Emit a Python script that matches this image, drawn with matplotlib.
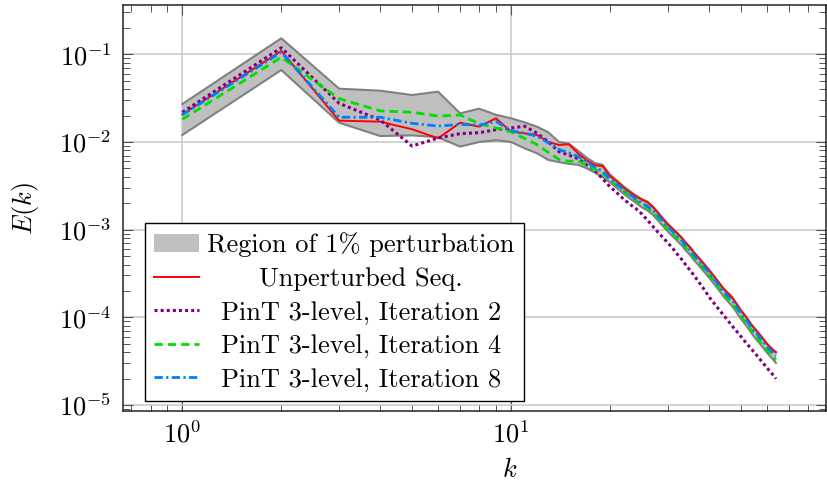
import numpy as np
import matplotlib
matplotlib.use("Agg")
import matplotlib.pyplot as plt
from matplotlib.ticker import LogLocator, NullFormatter

# ---------------- data ----------------
# wavenumbers k = 1 .. 64
k = np.arange(1, 65)

# log10 E(k), values
red_log10E = [
    -1.684, -0.962, -1.757, -1.768, -1.855, -1.958, -1.780, -1.825, -1.730, -1.882,
    -1.901, -1.920, -2.000, -2.034, -2.026, -2.130, -2.210, -2.265, -2.275, -2.390,
    -2.450, -2.520, -2.575, -2.620, -2.660, -2.685, -2.740, -2.810, -2.880, -2.940,
    -2.990, -3.040, -3.090, -3.150, -3.200, -3.260, -3.310, -3.360, -3.410, -3.460,
    -3.510, -3.560, -3.610, -3.660, -3.700, -3.735, -3.770, -3.820, -3.870, -3.920,
    -3.960, -4.000, -4.045, -4.090, -4.125, -4.160, -4.195, -4.230, -4.265, -4.300,
    -4.330, -4.355, -4.380, -4.400]

blue_log10E = [
    -1.690, -0.977, -1.718, -1.718, -1.787, -1.818, -1.800, -1.808, -1.765, -1.870,
    -1.900, -1.935, -2.010, -2.085, -2.125, -2.165, -2.225, -2.290, -2.330, -2.420,
    -2.480, -2.545, -2.600, -2.650, -2.700, -2.730, -2.780, -2.840, -2.905, -2.965,
    -3.020, -3.070, -3.120, -3.180, -3.230, -3.290, -3.340, -3.390, -3.440, -3.490,
    -3.540, -3.590, -3.640, -3.690, -3.730, -3.770, -3.805, -3.850, -3.900, -3.950,
    -3.990, -4.030, -4.075, -4.120, -4.155, -4.190, -4.225, -4.260, -4.295, -4.330,
    -4.360, -4.390, -4.415, -4.440]

green_log10E = [
    -1.741, -1.034, -1.506, -1.645, -1.661, -1.705, -1.692, -1.790, -1.840, -1.885,
    -1.960, -2.030, -2.120, -2.200, -2.220, -2.215, -2.265, -2.310, -2.360, -2.430,
    -2.495, -2.560, -2.615, -2.665, -2.715, -2.750, -2.800, -2.865, -2.930, -2.990,
    -3.045, -3.095, -3.145, -3.205, -3.255, -3.315, -3.365, -3.415, -3.465, -3.515,
    -3.565, -3.615, -3.665, -3.715, -3.760, -3.800, -3.840, -3.885, -3.935, -3.985,
    -4.025, -4.065, -4.110, -4.155, -4.195, -4.230, -4.265, -4.300, -4.335, -4.370,
    -4.400, -4.430, -4.460, -4.485]

purple_log10E = [
    -1.661, -0.925, -1.559, -1.749, -2.046, -1.955, -1.905, -1.894, -1.860, -1.840,
    -1.820, -1.900, -2.000, -2.110, -2.150, -2.190, -2.260, -2.320, -2.420, -2.510,
    -2.580, -2.650, -2.710, -2.760, -2.820, -2.890, -2.960, -3.030, -3.090, -3.150,
    -3.210, -3.275, -3.335, -3.400, -3.460, -3.520, -3.580, -3.640, -3.700, -3.765,
    -3.815, -3.865, -3.915, -3.960, -4.005, -4.050, -4.095, -4.135, -4.175, -4.215,
    -4.255, -4.295, -4.330, -4.365, -4.400, -4.435, -4.470, -4.505, -4.540, -4.570,
    -4.605, -4.635, -4.665, -4.700]

band_top_log10E = [
    -1.567, -0.817, -1.392, -1.415, -1.464, -1.426, -1.673, -1.620, -1.690, -1.730,
    -1.776, -1.825, -1.890, -2.000, -2.020, -2.100, -2.180, -2.240, -2.260, -2.370,
    -2.440, -2.505, -2.560, -2.610, -2.650, -2.680, -2.735, -2.800, -2.870, -2.935,
    -2.985, -3.035, -3.085, -3.145, -3.195, -3.255, -3.305, -3.355, -3.405, -3.455,
    -3.505, -3.555, -3.605, -3.655, -3.695, -3.730, -3.765, -3.815, -3.865, -3.915,
    -3.955, -3.995, -4.040, -4.085, -4.120, -4.155, -4.190, -4.225, -4.260, -4.295,
    -4.325, -4.350, -4.375, -4.395]

band_bottom_log10E = [
    -1.920, -1.179, -1.780, -1.932, -1.925, -1.946, -2.053, -2.000, -1.980, -2.000,
    -2.072, -2.129, -2.205, -2.230, -2.250, -2.260, -2.300, -2.350, -2.400, -2.460,
    -2.525, -2.590, -2.645, -2.695, -2.745, -2.780, -2.830, -2.895, -2.960, -3.020,
    -3.075, -3.125, -3.175, -3.235, -3.285, -3.345, -3.395, -3.445, -3.495, -3.545,
    -3.595, -3.645, -3.695, -3.745, -3.790, -3.830, -3.870, -3.915, -3.965, -4.015,
    -4.055, -4.095, -4.140, -4.185, -4.225, -4.260, -4.295, -4.330, -4.365, -4.400,
    -4.430, -4.460, -4.490, -4.520]

labels = ["Region of 1% perturbation", "Unperturbed Seq.",
          "PinT 3-level, Iteration 2", "PinT 3-level, Iteration 4",
          "PinT 3-level, Iteration 8"]

# ---------------- style ----------------
plt.rcParams.update({
    "font.family": "serif",
    "font.serif": ["cmr10"],
    "mathtext.fontset": "cm",
    "axes.formatter.use_mathtext": True,
    "axes.unicode_minus": False,
    "font.size": 19,
})

fig = plt.figure(figsize=(8.28, 4.91), dpi=100)
ax = fig.add_axes([0.1489, 0.1623, 0.8487, 0.8281])

E = lambda a: np.power(10.0, np.asarray(a))

ax.fill_between(k, E(band_bottom_log10E), E(band_top_log10E),
                facecolor="#bfbfbf", edgecolor="none", label=labels[0], zorder=2)
ax.plot(k, E(band_top_log10E), color="#808080", lw=1.5, zorder=2.1)
ax.plot(k, E(band_bottom_log10E), color="#808080", lw=1.5, zorder=2.1)

ax.plot(k, E(red_log10E), color="#ff0000", lw=1.4, label=labels[1], zorder=3)
ax.plot(k, E(purple_log10E), color="#800080", lw=2.2, dashes=(1, 1.0),
        label=labels[2], zorder=3)
ax.plot(k, E(green_log10E), color="#00e000", lw=2.0, dashes=(3.0, 1.8),
        label=labels[3], zorder=3)
ax.plot(k, E(blue_log10E), color="#0080ff", lw=2.0, dashes=(3.0, 1.2, 0.8, 1.2),
        label=labels[4], zorder=3)

ax.set_xscale("log")
ax.set_yscale("log")
ax.set_xlim(0.661, 90.9)
ax.set_ylim(8.47e-6, 0.368)

ax.xaxis.set_major_locator(LogLocator(base=10, numticks=20))
ax.yaxis.set_major_locator(LogLocator(base=10, numticks=20))
ax.xaxis.set_minor_locator(LogLocator(base=10, subs=np.arange(2, 10), numticks=40))
ax.yaxis.set_minor_locator(LogLocator(base=10, subs=np.arange(2, 10), numticks=40))
ax.xaxis.set_minor_formatter(NullFormatter())
ax.yaxis.set_minor_formatter(NullFormatter())

ax.grid(True, which="major", color="#c8c8c8", lw=1.1, zorder=0)
ax.set_axisbelow(True)
ax.tick_params(which="both", direction="in", top=True, right=True, colors="#555555",
               labelcolor="black")
ax.tick_params(which="major", length=7.5, width=0.8)
ax.tick_params(which="minor", length=5, width=0.7)
ax.tick_params(axis="y", which="major", pad=8.5)
ax.tick_params(axis="x", which="major", pad=7)
for s in ax.spines.values():
    s.set_linewidth(1.1)
    s.set_color("#222222")

ax.set_ylabel("$E(k)$")
ax.set_xlabel("$k$")
ax.yaxis.set_label_coords(-0.117, 0.5)
ax.xaxis.set_label_coords(0.550, -0.116)

leg = ax.legend(loc="lower left", bbox_to_anchor=(0.031, 0.025), borderaxespad=0,
                frameon=True, fancybox=False, edgecolor="black", framealpha=1,
                handlelength=1.7, handletextpad=0.3, labelspacing=0.37,
                borderpad=0.35)
leg.get_frame().set_linewidth(1.0)

# centre legend texts like pgfplots
fig.canvas.draw()
r = fig.canvas.get_renderer()
texts = leg.get_texts()
ws = [t.get_window_extent(r).width for t in texts]
W = max(ws)
for t, w in zip(texts, ws):
    t.set_x((W - w) / 2.0)

fig.savefig("out.png", dpi=100)
